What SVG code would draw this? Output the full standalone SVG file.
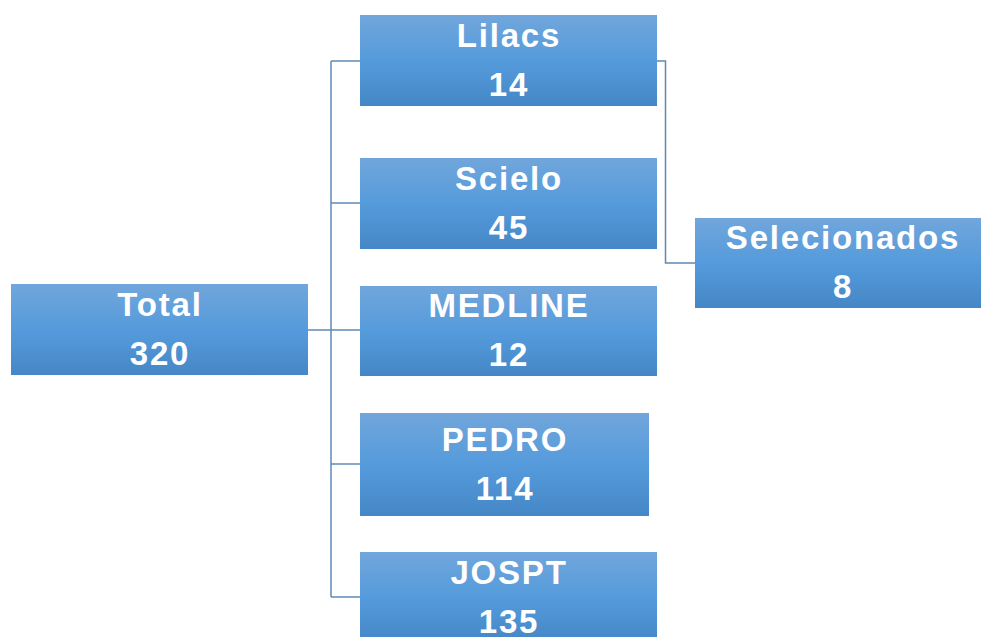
<svg xmlns="http://www.w3.org/2000/svg" width="981" height="637" viewBox="0 0 981 637">
<defs>
<linearGradient id="g" x1="0" y1="0" x2="0" y2="1">
<stop offset="0" stop-color="#71a6db"/>
<stop offset="0.5" stop-color="#559bdc"/>
<stop offset="1" stop-color="#4587c6"/>
</linearGradient>
</defs>
<style>
.box{fill:url(#g);}
.t{font-family:"Liberation Sans",Arial,sans-serif;font-weight:bold;font-size:33px;fill:#ffffff;text-anchor:middle;letter-spacing:1.8px;}
.c{fill:none;stroke:#5f88b6;stroke-width:1.5;}
</style>
<rect width="981" height="637" fill="#ffffff"/>
<g id="connectors">
<path class="c" d="M308 330 H331"/>
<path class="c" d="M331 61 V597"/>
<path class="c" d="M331 61 H360"/>
<path class="c" d="M331 203 H360"/>
<path class="c" d="M331 330 H360"/>
<path class="c" d="M331 464 H360"/>
<path class="c" d="M331 597 H360"/>
<path class="c" d="M657 61 H665.5 V263 H695"/>
</g>
<g id="total">
<rect class="box" x="11" y="284" width="297" height="91"/>
<text class="t" x="160" y="316">Total</text>
<text class="t" x="160" y="365">320</text>
</g>
<g id="lilacs">
<rect class="box" x="360" y="15" width="297" height="91"/>
<text class="t" x="509" y="47">Lilacs</text>
<text class="t" x="509" y="96">14</text>
</g>
<g id="scielo">
<rect class="box" x="360" y="158" width="297" height="91"/>
<text class="t" x="509" y="190">Scielo</text>
<text class="t" x="509" y="239">45</text>
</g>
<g id="medline">
<rect class="box" x="360" y="286" width="297" height="90"/>
<text class="t" x="509" y="317">MEDLINE</text>
<text class="t" x="509" y="366">12</text>
</g>
<g id="pedro">
<rect class="box" x="360" y="413" width="289" height="103"/>
<text class="t" x="505" y="451">PEDRO</text>
<text class="t" x="505" y="500">114</text>
</g>
<g id="jospt">
<rect class="box" x="360" y="552" width="297" height="90"/>
<text class="t" x="509" y="584">JOSPT</text>
<text class="t" x="509" y="633">135</text>
</g>
<g id="selecionados">
<rect class="box" x="695" y="218" width="286" height="90"/>
<text class="t" x="843" y="249">Selecionados</text>
<text class="t" x="843" y="298">8</text>
</g>
</svg>
